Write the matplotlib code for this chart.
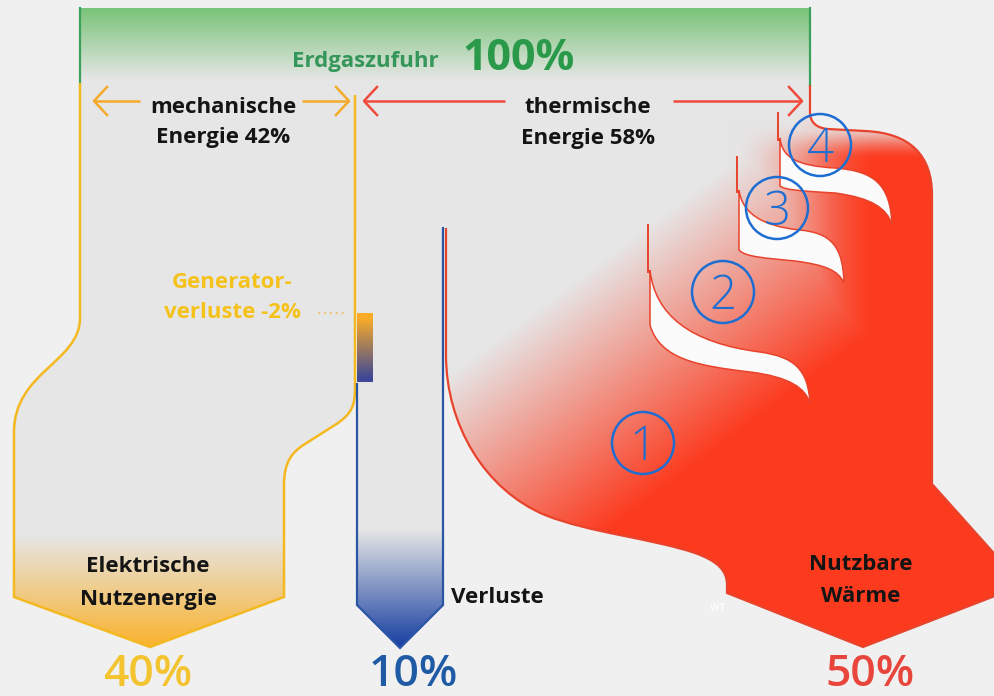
import numpy as np
import matplotlib
matplotlib.use('Agg')
import matplotlib.pyplot as plt
from matplotlib.path import Path
from matplotlib.patches import PathPatch, Circle, Rectangle

plt.rcParams['font.family'] = ['Open Sans', 'DejaVu Sans']

# ------------------------------------------------------------
# Daten: Energiefluss eines BHKW (Anteile in %)
# ------------------------------------------------------------
input_label = 'Erdgaszufuhr'
input_pct = 100
split_labels = ['mechanische', 'thermische']
split_pct = [42, 58]
gen_loss_pct = -2
output_labels = [['Elektrische', 'Nutzenergie'], ['Verluste'], ['Nutzbare', 'Wärme']]
output_pct = [40, 10, 50]
heat_stages = ['1', '2', '3', '4']

# Farben
BG = '#f0f0f0'
GRAY = np.array([230, 230, 230]) / 255
GREEN = np.array([120, 195, 120]) / 255
ORANGE = np.array([250, 178, 45]) / 255
BLUE = np.array([20, 60, 160]) / 255
RED = np.array([252, 58, 30]) / 255
YEL_LINE = '#f4b820'
BLUE_LINE = '#2a55a5'
RED_LINE = '#e8432c'
GREEN_LINE = '#3aa05a'
CIRCLE = '#1e6ed2'


def build(cmds):
    verts, codes = [], []
    for c in cmds:
        if c[0] == 'M':
            verts.append(c[1]); codes.append(Path.MOVETO)
        elif c[0] == 'L':
            verts.append(c[1]); codes.append(Path.LINETO)
        else:
            verts += [c[1], c[2], c[3]]; codes += [Path.CURVE4] * 3
    return Path(verts, codes)


def grad_fill(ax, path, box, tfunc, c0, c1, z):
    x0, x1, y0, y1 = box
    X, Y = np.meshgrid(np.arange(x0, x1) + 0.5, np.arange(y0, y1) + 0.5)
    t = np.clip(tfunc(X, Y), 0, 1)[..., None]
    img = np.asarray(c0) * (1 - t) + np.asarray(c1) * t
    clip = PathPatch(path, fc='none', ec='none', transform=ax.transData)
    ax.add_patch(clip)
    im = ax.imshow(img, extent=(x0, x1, y1, y0), origin='upper',
                   interpolation='bilinear', zorder=z)
    im.set_clip_path(clip)


def ss(v):
    v = np.clip(v, 0, 1)
    return v * v * (3 - 2 * v)


fig = plt.figure(figsize=(9.95, 6.96), dpi=100, facecolor=BG)
ax = fig.add_axes([0, 0, 1, 1])
ax.set_facecolor(BG)

# ------------------------------------------------------------
# Kasten oben (Erdgas) mit Grünverlauf
# ------------------------------------------------------------
ax.add_patch(Rectangle((80, 8), 730, 222, fc=GRAY, ec='none', zorder=1))
top_box = build([('M', (80, 8)), ('L', (810, 8)), ('L', (810, 82)), ('L', (80, 82))])
grad_fill(ax, top_box, (80, 810, 8, 82), lambda X, Y: (80 - Y) / 72, GRAY, GREEN, 2)
ax.plot([80, 80], [8, 84], color=GREEN_LINE, lw=1.6, zorder=6)
ax.plot([810, 810], [8, 86], color=GREEN_LINE, lw=1.6, zorder=6)

# ------------------------------------------------------------
# elektrischer Zweig (gelb)
# ------------------------------------------------------------
elec = [('M', (80, 83)), ('L', (80, 318)), ('C', (80, 362), (14, 372), (14, 432)),
        ('L', (14, 597)), ('L', (150, 647)), ('L', (284, 597)), ('L', (284, 485)),
        ('C', (284, 462), (292, 452), (305, 444)), ('L', (338, 423)),
        ('C', (352, 413), (355, 405), (355, 388)), ('L', (355, 95))]
elec_path = build(elec)
grad_fill(ax, elec_path, (10, 360, 80, 650), lambda X, Y: (Y - 535) / 112, GRAY, ORANGE, 3)
ax.add_patch(PathPatch(elec_path, fill=False, ec=YEL_LINE, lw=1.8, zorder=7))

# Generatorverluste
gen = build([('M', (357, 313)), ('L', (373, 313)), ('L', (373, 382)), ('L', (357, 382))])
grad_fill(ax, gen, (357, 373, 313, 382), lambda X, Y: (Y - 318) / 60,
          np.array([250, 172, 40]) / 255, np.array([62, 72, 150]) / 255, 8)
ax.plot([318, 346], [313, 313], color='#f0c880', lw=1.6, ls=':', zorder=8)

# ------------------------------------------------------------
# Verluste (blau)
# ------------------------------------------------------------
blade = [('M', (357, 228)), ('L', (443, 228)), ('L', (443, 605)), ('L', (400, 648)),
         ('L', (357, 605))]
grad_fill(ax, build(blade), (355, 446, 226, 650), lambda X, Y: (Y - 530) / 118, GRAY, BLUE, 3)
blade_line = [('M', (443, 227)), ('L', (443, 605)), ('L', (400, 648)), ('L', (357, 605)),
              ('L', (357, 383))]
ax.add_patch(PathPatch(build(blade_line), fill=False, ec=BLUE_LINE, lw=1.6, zorder=7,
                       joinstyle='miter'))

# ------------------------------------------------------------
# Nutzwärme (rot) mit Stufen 1-4
# ------------------------------------------------------------
heat_outline = [('M', (446, 228)), ('L', (446, 355)),
                ('C', (446, 425), (485, 490), (545, 515)),
                ('C', (590, 533), (650, 538), (695, 553)),
                ('C', (717, 561), (727, 570), (727, 585)),
                ('L', (727, 593)), ('L', (863, 647)), ('L', (1000, 594)), ('L', (1000, 560)),
                ('L', (932, 484)), ('L', (932, 195)),
                ('C', (932, 155), (910, 133), (865, 131)), ('L', (828, 129)),
                ('C', (816, 128), (810, 122), (810, 112)), ('L', (810, 85))]
heat_fill = [('M', (446, 85))] + heat_outline[1:] + [('L', (446, 85))]


def red_t(X, Y):
    t1 = (0.6 * X + 0.8 * Y - 570) / 220
    t2 = ss((X - 730) / 150) * ss((Y - 120) / 40)
    return np.maximum(np.clip(t1, 0, 1), t2)


grad_fill(ax, build(heat_fill), (440, 995, 84, 650), red_t, GRAY, RED, 4)
ax.add_patch(PathPatch(build(heat_outline), fill=False, ec=RED_LINE, lw=1.6, zorder=6))

gaps = [
    [('M', (650, 270)), ('C', (655, 315), (690, 343), (760, 352)),
     ('C', (795, 357), (808, 370), (810, 403)), ('C', (805, 388), (790, 377), (750, 372)),
     ('C', (700, 366), (660, 360), (650, 325)), ('L', (650, 270))],
    [('M', (739, 190)), ('C', (742, 212), (760, 226), (800, 230)),
     ('C', (830, 233), (843, 245), (844, 283)), ('C', (838, 270), (825, 265), (795, 261)),
     ('C', (765, 258), (745, 257), (739, 250)), ('L', (739, 190))],
    [('M', (780, 138)), ('C', (782, 158), (798, 166), (835, 168)),
     ('C', (875, 171), (890, 185), (892, 224)), ('C', (886, 208), (872, 198), (835, 193)),
     ('C', (800, 191), (785, 190), (780, 186)), ('L', (780, 138))],
]
for g in gaps:
    ax.add_patch(PathPatch(build(g), fc='#fbfbfb', ec=RED_LINE, lw=1.1, zorder=5))

# Stufenkanten
for x, y0, y1 in [(648, 225, 272), (737, 157, 192), (778, 113, 140)]:
    ax.plot([x, x], [y0, y1], color=RED_LINE, lw=1.4, zorder=6)

# ------------------------------------------------------------
# Pfeile mechanisch / thermisch
# ------------------------------------------------------------
def arrow(xa, xb, y, color):
    ax.plot([xa, xb], [y, y], color=color, lw=1.8, zorder=8, solid_capstyle='butt')
    d = 13 if xb < xa else -13
    ax.plot([xb + d, xb, xb + d], [y - 14, y, y + 14], color=color, lw=1.8, zorder=8)


arrow(140, 94, 101, '#f5aa28')
arrow(302, 349, 101, '#f5aa28')
arrow(505, 364, 101, '#f04a3c')
arrow(673, 802, 101, '#f04a3c')

# ------------------------------------------------------------
# Texte
# ------------------------------------------------------------
def lines(x, ys, texts, **kw):
    for y, s in zip(ys, texts):
        ax.text(x, y, s, ha='center', va='baseline', zorder=10, **kw)


ax.text(365, 67, input_label, ha='center', va='baseline', fontsize=16,
        fontweight='bold', color='#35965a', zorder=10)
ax.text(462, 70, f'{input_pct}%', ha='left', va='baseline', fontsize=31,
        fontweight='bold', color='#2a9a4a', zorder=10)

lines(223, [113, 143], [split_labels[0], f'Energie {split_pct[0]}%'],
      fontsize=16, fontweight='bold', color='#141414')
lines(588, [113, 144], [split_labels[1], f'Energie {split_pct[1]}%'],
      fontsize=16, fontweight='bold', color='#141414')
lines(232, [288, 318], ['Generator-', f'verluste {gen_loss_pct}%'],
      fontsize=16, fontweight='bold', color='#f5c21c')

lines(148, [572, 605], output_labels[0], fontsize=16, fontweight='bold', color='#141414')
lines(497, [603], output_labels[1], fontsize=16, fontweight='bold', color='#141414')
lines(861, [570, 602], output_labels[2], fontsize=16, fontweight='bold', color='#141414')

pct_colors = ['#f4c430', '#1f5aa5', '#e8453c']
for x, p, c in zip([148, 413, 870], output_pct, pct_colors):
    ax.text(x, 696, f'{p}%', ha='center', va='bottom', fontsize=32,
            fontweight='semibold', color=c, zorder=10)

ax.text(718, 611, 'WT', ha='center', va='baseline', fontsize=7, color='white',
        alpha=0.8, fontweight='bold', zorder=10)

# Stufennummern
for (cx, cy), s in zip([(643, 443), (723, 292), (777, 208), (820, 145)], heat_stages):
    ax.add_patch(Circle((cx, cy), 31, fill=False, ec=CIRCLE, lw=1.8, zorder=11))
    ax.text(cx, cy + 17, s, ha='center', va='baseline', fontsize=34,
            fontweight='light', color=CIRCLE, zorder=11)

ax.set_xlim(0, 995)
ax.set_ylim(696, 0)
ax.set_aspect('auto')
ax.axis('off')
fig.savefig('out.png', dpi=100, facecolor=BG)
